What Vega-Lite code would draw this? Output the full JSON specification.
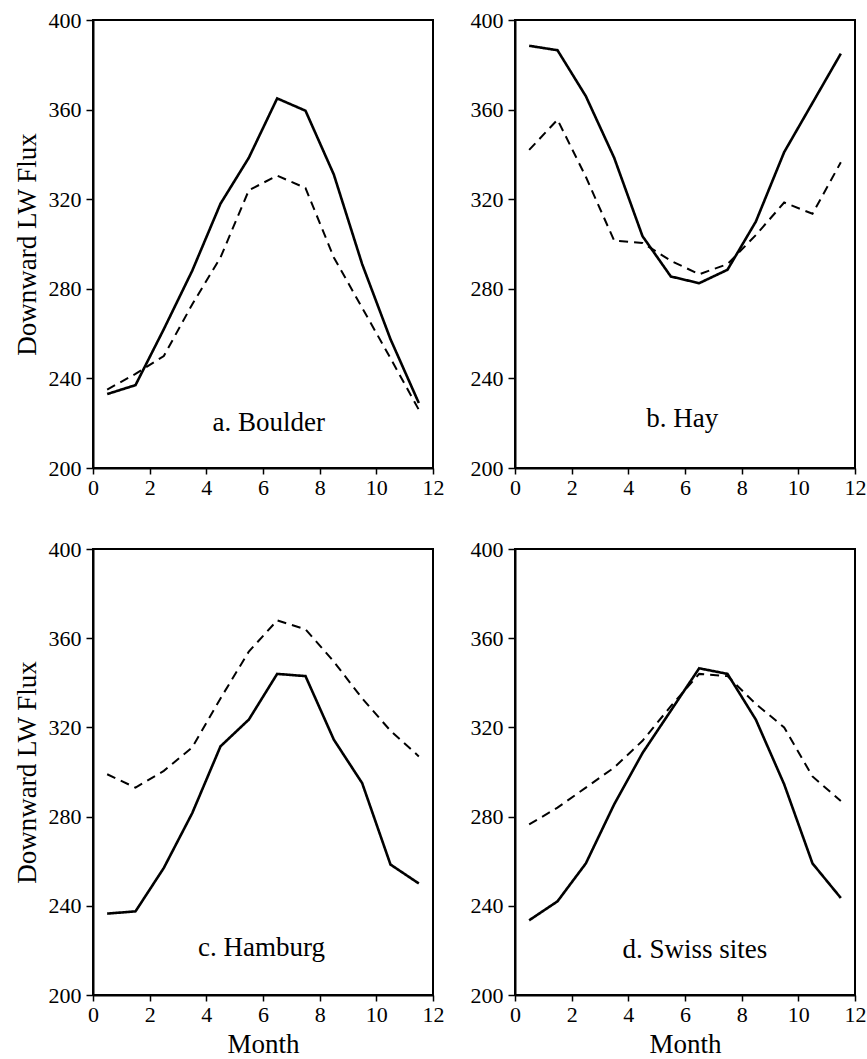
{
  "$schema": "https://vega.github.io/schema/vega-lite/v6.json",
  "padding": {"left": 12, "top": 8, "right": 3, "bottom": 5},
  "background": "white",
  "config": {
    "view": {"stroke": "black", "strokeWidth": 2},
    "font": "Liberation Serif",
    "axis": {
      "grid": false,
      "domainColor": "black",
      "domainWidth": 2,
      "tickColor": "black",
      "tickWidth": 1.5,
      "labelColor": "black",
      "labelFont": "Liberation Serif",
      "labelFontSize": 22,
      "labelFlush": false,
      "labelOverlap": false,
      "labelBound": false,
      "titleFont": "Liberation Serif",
      "titleFontSize": 27,
      "titleFontWeight": "normal",
      "titleColor": "black"
    },
    "axisX": {"tickSize": 6, "labelPadding": 3, "titlePadding": 6},
    "axisY": {"tickSize": 7, "labelPadding": 5, "titlePadding": 7}
  },
  "datasets": {
    "flux": [
      {"panel": "a", "series": "s1", "month": 0.5, "flux": 233},
      {"panel": "a", "series": "s1", "month": 1.5, "flux": 237},
      {"panel": "a", "series": "s1", "month": 2.5, "flux": 262},
      {"panel": "a", "series": "s1", "month": 3.5, "flux": 288},
      {"panel": "a", "series": "s1", "month": 4.5, "flux": 318},
      {"panel": "a", "series": "s1", "month": 5.5, "flux": 338.5},
      {"panel": "a", "series": "s1", "month": 6.5, "flux": 365},
      {"panel": "a", "series": "s1", "month": 7.5, "flux": 359.5},
      {"panel": "a", "series": "s1", "month": 8.5, "flux": 331},
      {"panel": "a", "series": "s1", "month": 9.5, "flux": 291},
      {"panel": "a", "series": "s1", "month": 10.5, "flux": 257.5},
      {"panel": "a", "series": "s1", "month": 11.5, "flux": 229},
      {"panel": "a", "series": "s2", "month": 0.5, "flux": 235},
      {"panel": "a", "series": "s2", "month": 1.5, "flux": 242},
      {"panel": "a", "series": "s2", "month": 2.5, "flux": 250},
      {"panel": "a", "series": "s2", "month": 3.5, "flux": 273},
      {"panel": "a", "series": "s2", "month": 4.5, "flux": 294},
      {"panel": "a", "series": "s2", "month": 5.5, "flux": 324},
      {"panel": "a", "series": "s2", "month": 6.5, "flux": 330.5},
      {"panel": "a", "series": "s2", "month": 7.5, "flux": 325},
      {"panel": "a", "series": "s2", "month": 8.5, "flux": 294},
      {"panel": "a", "series": "s2", "month": 9.5, "flux": 271.5},
      {"panel": "a", "series": "s2", "month": 10.5, "flux": 249},
      {"panel": "a", "series": "s2", "month": 11.5, "flux": 226},
      {"panel": "b", "series": "s1", "month": 0.5, "flux": 388.5},
      {"panel": "b", "series": "s1", "month": 1.5, "flux": 386.5},
      {"panel": "b", "series": "s1", "month": 2.5, "flux": 366},
      {"panel": "b", "series": "s1", "month": 3.5, "flux": 338.5},
      {"panel": "b", "series": "s1", "month": 4.5, "flux": 303.5},
      {"panel": "b", "series": "s1", "month": 5.5, "flux": 285.5},
      {"panel": "b", "series": "s1", "month": 6.5, "flux": 282.5},
      {"panel": "b", "series": "s1", "month": 7.5, "flux": 288.5},
      {"panel": "b", "series": "s1", "month": 8.5, "flux": 310},
      {"panel": "b", "series": "s1", "month": 9.5, "flux": 341},
      {"panel": "b", "series": "s1", "month": 10.5, "flux": 363},
      {"panel": "b", "series": "s1", "month": 11.5, "flux": 385},
      {"panel": "b", "series": "s2", "month": 0.5, "flux": 342},
      {"panel": "b", "series": "s2", "month": 1.5, "flux": 355.5},
      {"panel": "b", "series": "s2", "month": 2.5, "flux": 330},
      {"panel": "b", "series": "s2", "month": 3.5, "flux": 301.5},
      {"panel": "b", "series": "s2", "month": 4.5, "flux": 300.5},
      {"panel": "b", "series": "s2", "month": 5.5, "flux": 292.5},
      {"panel": "b", "series": "s2", "month": 6.5, "flux": 286.5},
      {"panel": "b", "series": "s2", "month": 7.5, "flux": 291},
      {"panel": "b", "series": "s2", "month": 8.5, "flux": 304},
      {"panel": "b", "series": "s2", "month": 9.5, "flux": 318.5},
      {"panel": "b", "series": "s2", "month": 10.5, "flux": 313.5},
      {"panel": "b", "series": "s2", "month": 11.5, "flux": 336.5},
      {"panel": "c", "series": "s1", "month": 0.5, "flux": 236.5},
      {"panel": "c", "series": "s1", "month": 1.5, "flux": 237.5},
      {"panel": "c", "series": "s1", "month": 2.5, "flux": 257},
      {"panel": "c", "series": "s1", "month": 3.5, "flux": 281.5},
      {"panel": "c", "series": "s1", "month": 4.5, "flux": 311.5},
      {"panel": "c", "series": "s1", "month": 5.5, "flux": 323.5},
      {"panel": "c", "series": "s1", "month": 6.5, "flux": 344},
      {"panel": "c", "series": "s1", "month": 7.5, "flux": 343},
      {"panel": "c", "series": "s1", "month": 8.5, "flux": 314.5},
      {"panel": "c", "series": "s1", "month": 9.5, "flux": 295},
      {"panel": "c", "series": "s1", "month": 10.5, "flux": 258.5},
      {"panel": "c", "series": "s1", "month": 11.5, "flux": 250},
      {"panel": "c", "series": "s2", "month": 0.5, "flux": 299},
      {"panel": "c", "series": "s2", "month": 1.5, "flux": 293},
      {"panel": "c", "series": "s2", "month": 2.5, "flux": 300.5},
      {"panel": "c", "series": "s2", "month": 3.5, "flux": 311},
      {"panel": "c", "series": "s2", "month": 4.5, "flux": 333},
      {"panel": "c", "series": "s2", "month": 5.5, "flux": 354},
      {"panel": "c", "series": "s2", "month": 6.5, "flux": 368},
      {"panel": "c", "series": "s2", "month": 7.5, "flux": 364},
      {"panel": "c", "series": "s2", "month": 8.5, "flux": 349.5},
      {"panel": "c", "series": "s2", "month": 9.5, "flux": 333},
      {"panel": "c", "series": "s2", "month": 10.5, "flux": 318.5},
      {"panel": "c", "series": "s2", "month": 11.5, "flux": 307},
      {"panel": "d", "series": "s1", "month": 0.5, "flux": 233.5},
      {"panel": "d", "series": "s1", "month": 1.5, "flux": 242},
      {"panel": "d", "series": "s1", "month": 2.5, "flux": 259},
      {"panel": "d", "series": "s1", "month": 3.5, "flux": 285.5},
      {"panel": "d", "series": "s1", "month": 4.5, "flux": 308.5},
      {"panel": "d", "series": "s1", "month": 5.5, "flux": 327.5},
      {"panel": "d", "series": "s1", "month": 6.5, "flux": 346.5},
      {"panel": "d", "series": "s1", "month": 7.5, "flux": 344},
      {"panel": "d", "series": "s1", "month": 8.5, "flux": 323.5},
      {"panel": "d", "series": "s1", "month": 9.5, "flux": 294.5},
      {"panel": "d", "series": "s1", "month": 10.5, "flux": 259},
      {"panel": "d", "series": "s1", "month": 11.5, "flux": 243.5},
      {"panel": "d", "series": "s2", "month": 0.5, "flux": 276.5},
      {"panel": "d", "series": "s2", "month": 1.5, "flux": 284},
      {"panel": "d", "series": "s2", "month": 2.5, "flux": 293},
      {"panel": "d", "series": "s2", "month": 3.5, "flux": 302},
      {"panel": "d", "series": "s2", "month": 4.5, "flux": 314},
      {"panel": "d", "series": "s2", "month": 5.5, "flux": 329.5},
      {"panel": "d", "series": "s2", "month": 6.5, "flux": 344},
      {"panel": "d", "series": "s2", "month": 7.5, "flux": 343},
      {"panel": "d", "series": "s2", "month": 8.5, "flux": 330.5},
      {"panel": "d", "series": "s2", "month": 9.5, "flux": 320},
      {"panel": "d", "series": "s2", "month": 10.5, "flux": 298},
      {"panel": "d", "series": "s2", "month": 11.5, "flux": 287}
    ],
    "labels": [
      {"panel": "a", "month": 6.2, "flux": 220, "label": "a. Boulder"},
      {"panel": "b", "month": 5.9, "flux": 222, "label": "b. Hay"},
      {"panel": "c", "month": 5.95, "flux": 221, "label": "c. Hamburg"},
      {"panel": "d", "month": 6.35, "flux": 220, "label": "d. Swiss sites"}
    ]
  },
  "columns": 2,
  "spacing": {"row": 81, "column": 82},
  "bounds": "flush",
  "concat": [
    {
      "width": 340, "height": 448,
      "encoding": {
        "x": {"field": "month", "type": "quantitative", "scale": {"domain": [0, 12], "nice": false, "zero": false}, "axis": {"values": [0, 2, 4, 6, 8, 10, 12], "title": null}},
        "y": {"field": "flux", "type": "quantitative", "scale": {"domain": [200, 400], "nice": false, "zero": false}, "axis": {"values": [200, 240, 280, 320, 360, 400], "title": "Downward LW Flux"}}
      },
      "layer": [
        {
          "data": {"name": "flux"},
          "transform": [{"filter": "datum.panel === 'a'"}],
          "mark": {"type": "line", "color": "black"},
          "encoding": {
            "strokeDash": {"field": "series", "type": "nominal", "scale": {"domain": ["s1", "s2"], "range": [[1, 0], [9, 6]]}, "legend": null},
            "strokeWidth": {"field": "series", "type": "nominal", "scale": {"domain": ["s1", "s2"], "range": [2.6, 2]}, "legend": null}
          }
        },
        {
          "data": {"name": "labels"},
          "transform": [{"filter": "datum.panel === 'a'"}],
          "mark": {"type": "text", "font": "Liberation Serif", "fontSize": 27, "color": "black", "baseline": "middle", "align": "center"},
          "encoding": {"text": {"field": "label"}}
        }
      ]
    },
    {
      "width": 340, "height": 448,
      "encoding": {
        "x": {"field": "month", "type": "quantitative", "scale": {"domain": [0, 12], "nice": false, "zero": false}, "axis": {"values": [0, 2, 4, 6, 8, 10, 12], "title": null}},
        "y": {"field": "flux", "type": "quantitative", "scale": {"domain": [200, 400], "nice": false, "zero": false}, "axis": {"values": [200, 240, 280, 320, 360, 400], "title": null}}
      },
      "layer": [
        {
          "data": {"name": "flux"},
          "transform": [{"filter": "datum.panel === 'b'"}],
          "mark": {"type": "line", "color": "black"},
          "encoding": {
            "strokeDash": {"field": "series", "type": "nominal", "scale": {"domain": ["s1", "s2"], "range": [[1, 0], [9, 6]]}, "legend": null},
            "strokeWidth": {"field": "series", "type": "nominal", "scale": {"domain": ["s1", "s2"], "range": [2.6, 2]}, "legend": null}
          }
        },
        {
          "data": {"name": "labels"},
          "transform": [{"filter": "datum.panel === 'b'"}],
          "mark": {"type": "text", "font": "Liberation Serif", "fontSize": 27, "color": "black", "baseline": "middle", "align": "center"},
          "encoding": {"text": {"field": "label"}}
        }
      ]
    },
    {
      "width": 340, "height": 446,
      "encoding": {
        "x": {"field": "month", "type": "quantitative", "scale": {"domain": [0, 12], "nice": false, "zero": false}, "axis": {"values": [0, 2, 4, 6, 8, 10, 12], "title": "Month"}},
        "y": {"field": "flux", "type": "quantitative", "scale": {"domain": [200, 400], "nice": false, "zero": false}, "axis": {"values": [200, 240, 280, 320, 360, 400], "title": "Downward LW Flux"}}
      },
      "layer": [
        {
          "data": {"name": "flux"},
          "transform": [{"filter": "datum.panel === 'c'"}],
          "mark": {"type": "line", "color": "black"},
          "encoding": {
            "strokeDash": {"field": "series", "type": "nominal", "scale": {"domain": ["s1", "s2"], "range": [[1, 0], [9, 6]]}, "legend": null},
            "strokeWidth": {"field": "series", "type": "nominal", "scale": {"domain": ["s1", "s2"], "range": [2.6, 2]}, "legend": null}
          }
        },
        {
          "data": {"name": "labels"},
          "transform": [{"filter": "datum.panel === 'c'"}],
          "mark": {"type": "text", "font": "Liberation Serif", "fontSize": 27, "color": "black", "baseline": "middle", "align": "center"},
          "encoding": {"text": {"field": "label"}}
        }
      ]
    },
    {
      "width": 340, "height": 446,
      "encoding": {
        "x": {"field": "month", "type": "quantitative", "scale": {"domain": [0, 12], "nice": false, "zero": false}, "axis": {"values": [0, 2, 4, 6, 8, 10, 12], "title": "Month"}},
        "y": {"field": "flux", "type": "quantitative", "scale": {"domain": [200, 400], "nice": false, "zero": false}, "axis": {"values": [200, 240, 280, 320, 360, 400], "title": null}}
      },
      "layer": [
        {
          "data": {"name": "flux"},
          "transform": [{"filter": "datum.panel === 'd'"}],
          "mark": {"type": "line", "color": "black"},
          "encoding": {
            "strokeDash": {"field": "series", "type": "nominal", "scale": {"domain": ["s1", "s2"], "range": [[1, 0], [9, 6]]}, "legend": null},
            "strokeWidth": {"field": "series", "type": "nominal", "scale": {"domain": ["s1", "s2"], "range": [2.6, 2]}, "legend": null}
          }
        },
        {
          "data": {"name": "labels"},
          "transform": [{"filter": "datum.panel === 'd'"}],
          "mark": {"type": "text", "font": "Liberation Serif", "fontSize": 27, "color": "black", "baseline": "middle", "align": "center"},
          "encoding": {"text": {"field": "label"}}
        }
      ]
    }
  ]
}
